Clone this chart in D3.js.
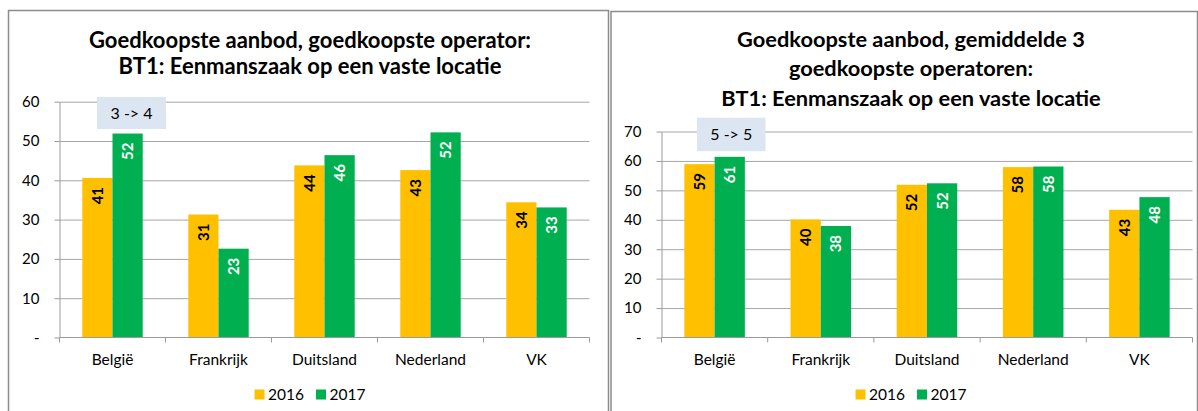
<!DOCTYPE html>
<html>
<head>
<meta charset="utf-8">
<script src="https://cdn.jsdelivr.net/npm/d3@7"></script>
<style>
    body { margin: 0; background: #fff; }
    svg { display: block; }
    text { font-family: Lato, "Open Sans", sans-serif; }
</style>
</head>
<body>
<svg id="drawing" width="1198" height="411"></svg>
<script>
// data
const categories = ["België", "Frankrijk", "Duitsland", "Nederland", "VK"]
const years = ["2016", "2017"]
const cheapest2016 = [40.6, 31.3, 43.8, 42.6, 34.4]
const cheapest2017 = [51.9, 22.6, 46.4, 52.2, 33.1]
const avgThree2016 = [58.9, 40.1, 51.9, 57.9, 43.4]
const avgThree2017 = [61.4, 37.9, 52.4, 58.1, 47.7]
const leftTicks = [0, 10, 20, 30, 40, 50, 60]
const rightTicks = [0, 10, 20, 30, 40, 50, 60, 70]
const leftTitle = ["Goedkoopste aanbod, goedkoopste operator:", "BT1: Eenmanszaak op een vaste locatie"]
const rightTitle = ["Goedkoopste aanbod, gemiddelde 3", "goedkoopste operatoren:", "BT1: Eenmanszaak op een vaste locatie"]
const leftNote = "3 -> 4"
const rightNote = "5 -> 5"

const colors = { "2016": "#ffc000", "2017": "#00b050" }
const labelColors = { "2016": "#000", "2017": "#fff" }

const panels = [
    {
        frame: { x: 8.5, y: 10.5, w: 600, h: 440 },
        plot: { left: 59.5, right: 589.5, top: 101.7, bottom: 337.5 },
        ticks: leftTicks, title: leftTitle, titleY: [47.5, 74], titleSize: 22,
        centerX: 310, note: leftNote, noteBox: { dx: 37.5, dy: -4.7, w: 69, h: 32 },
        series: [cheapest2016, cheapest2017]
    },
    {
        frame: { x: 611, y: 11.5, w: 586.5, h: 440 },
        plot: { left: 661.5, right: 1192.5, top: 131.5, bottom: 337.5 },
        ticks: rightTicks, title: rightTitle, titleY: [46.7, 76.3, 106], titleSize: 21.8,
        centerX: 911, note: rightNote, noteBox: { dx: 35.5, dy: -13.8, w: 68.5, h: 33.5 },
        series: [avgThree2016, avgThree2017]
    }
]

const svg = d3.select("#drawing")

function drawPanel(p) {
    const g = svg.append("g")
    const pl = p.plot

    g.append("rect")
        .attr("x", p.frame.x).attr("y", p.frame.y)
        .attr("width", p.frame.w).attr("height", p.frame.h)
        .attr("fill", "#fff")
        .attr("stroke", "#8c8c8c")
        .attr("stroke-width", 1.5)

    const x0 = d3.scaleBand()
        .domain(categories)
        .range([pl.left, pl.right])
        .paddingInner(0.43)
        .paddingOuter(0.215)
    const x1 = d3.scaleBand()
        .domain(years)
        .range([0, x0.bandwidth()])
    const y = d3.scaleLinear()
        .domain([0, d3.max(p.ticks)])
        .range([pl.bottom, pl.top])

    // gridlines
    g.append("g")
        .attr("transform", `translate(${pl.left},0)`)
        .call(d3.axisLeft(y).tickValues(p.ticks.slice(1)).tickSize(-(pl.right - pl.left)).tickFormat(""))
        .call(g => g.select(".domain").remove())
        .call(g => g.selectAll(".tick line").attr("stroke", "#a6a6a6"))

    // y axis
    g.append("g")
        .attr("transform", `translate(${pl.left},0)`)
        .call(d3.axisLeft(y).tickValues(p.ticks).tickSize(5).tickSizeOuter(0).tickPadding(15)
            .tickFormat(d => d === 0 ? "-" : d))
        .call(g => g.select(".domain").attr("stroke", "#9a9a9a"))
        .call(g => g.selectAll(".tick line").attr("stroke", "#9a9a9a"))
        .call(g => g.selectAll(".tick text")
            .attr("font-family", "Lato").attr("font-size", 15).attr("fill", "#000"))

    // bars
    const rows = categories.map((c, i) => ({ cat: c, vals: years.map((yr, k) => ({ yr: yr, v: p.series[k][i] })) }))
    const groups = g.append("g").selectAll("g")
        .data(rows)
        .join("g")
        .attr("transform", d => `translate(${x0(d.cat)},0)`)

    groups.selectAll("rect")
        .data(d => d.vals)
        .join("rect")
        .attr("x", d => x1(d.yr))
        .attr("y", d => y(d.v))
        .attr("width", x1.bandwidth())
        .attr("height", d => y(0) - y(d.v))
        .attr("fill", d => colors[d.yr])

    groups.selectAll("text")
        .data(d => d.vals)
        .join("text")
        .attr("transform", d => `translate(${x1(d.yr) + x1.bandwidth() / 2},${y(d.v) + 9}) rotate(-90)`)
        .attr("text-anchor", "end")
        .attr("dy", "0.36em")
        .attr("font-size", 15)
        .attr("font-weight", "bold")
        .attr("fill", d => labelColors[d.yr])
        .text(d => Math.round(d.v))

    // x axis line and category boundary ticks
    g.append("line")
        .attr("x1", pl.left).attr("x2", pl.right)
        .attr("y1", pl.bottom).attr("y2", pl.bottom)
        .attr("stroke", "#9a9a9a")
    g.append("g").selectAll("line")
        .data(d3.range(categories.length + 1))
        .join("line")
        .attr("x1", i => pl.left + i * x0.step())
        .attr("x2", i => pl.left + i * x0.step())
        .attr("y1", pl.bottom).attr("y2", pl.bottom + 5)
        .attr("stroke", "#9a9a9a")

    g.append("g")
        .attr("transform", `translate(0,${pl.bottom})`)
        .call(d3.axisBottom(x0).tickSize(0).tickPadding(16))
        .call(g => g.select(".domain").remove())
        .call(g => g.selectAll(".tick text")
            .attr("font-family", "Lato").attr("font-size", 15.5).attr("fill", "#000"))

    // title
    g.append("g").selectAll("text")
        .data(p.title)
        .join("text")
        .attr("x", p.centerX)
        .attr("y", (d, i) => p.titleY[i])
        .attr("text-anchor", "middle")
        .attr("font-size", p.titleSize)
        .attr("font-weight", "bold")
        .attr("fill", "#000")
        .text(d => d)

    // note box
    const nb = p.noteBox
    g.append("rect")
        .attr("x", pl.left + nb.dx).attr("y", pl.top + nb.dy)
        .attr("width", nb.w).attr("height", nb.h)
        .attr("fill", "#dce6f2")
    g.append("text")
        .attr("x", pl.left + nb.dx + nb.w / 2)
        .attr("y", pl.top + nb.dy + nb.h / 2)
        .attr("dy", "0.36em")
        .attr("text-anchor", "middle")
        .attr("font-family", "Liberation Sans")
        .attr("font-size", 16)
        .attr("fill", "#000")
        .text(p.note)

    // legend
    const legend = g.append("g")
    let cx = 0
    years.forEach(yr => {
        legend.append("rect")
            .attr("x", cx).attr("y", 389.5)
            .attr("width", 10).attr("height", 10)
            .attr("fill", colors[yr])
        const t = legend.append("text")
            .attr("x", cx + 13.5).attr("y", 399.5)
            .attr("font-size", 15.5)
            .attr("fill", "#000")
            .text(yr)
        cx += 13.5 + t.node().getComputedTextLength() + 12
    })
    const lw = cx - 12
    legend.attr("transform", `translate(${p.centerX - lw / 2},0)`)
}

panels.forEach(drawPanel)
</script>
</body>
</html>
